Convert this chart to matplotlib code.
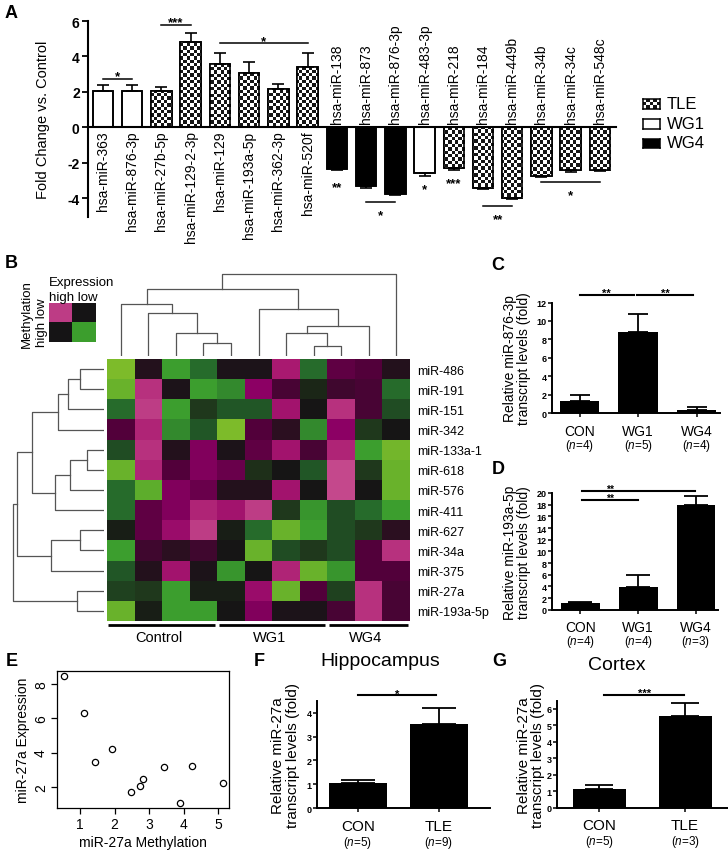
import numpy as np
import matplotlib
matplotlib.use('Agg')
import matplotlib.pyplot as plt
from matplotlib.colors import LinearSegmentedColormap, ListedColormap

plt.rcParams['font.family'] = ['Liberation Sans', 'DejaVu Sans']
plt.rcParams['mathtext.fontset'] = 'custom'
plt.rcParams['mathtext.rm'] = 'Liberation Sans'
plt.rcParams['mathtext.it'] = 'Liberation Sans:italic'

# ---------------- data ----------------
# Panel A
a_labels = ['hsa-miR-363', 'hsa-miR-876-3p', 'hsa-miR-27b-5p', 'hsa-miR-129-2-3p',
            'hsa-miR-129', 'hsa-miR-193a-5p', 'hsa-miR-362-3p', 'hsa-miR-520f',
            'hsa-miR-138', 'hsa-miR-873', 'hsa-miR-876-3p', 'hsa-miR-483-3p',
            'hsa-miR-218', 'hsa-miR-184', 'hsa-miR-449b', 'hsa-miR-34b',
            'hsa-miR-34c', 'hsa-miR-548c']
a_groups = ['WG1', 'WG1', 'TLE', 'TLE', 'TLE', 'TLE', 'TLE', 'TLE',
            'WG4', 'WG4', 'WG4', 'WG1', 'TLE', 'TLE', 'TLE', 'TLE', 'TLE', 'TLE']
a_values = [2.05, 2.05, 2.05, 4.8, 3.55, 3.05, 2.15, 3.4,
            -2.35, -3.3, -3.75, -2.55, -2.27, -3.44, -4.0, -2.73, -2.42, -2.4]
a_errors = [0.35, 0.35, 0.22, 0.5, 0.65, 0.65, 0.3, 0.8,
            0.03, 0.1, 0.04, 0.17, 0.12, 0.05, 0.05, 0.04, 0.08, 0.08]
a_legend = ['TLE', 'WG1', 'WG4']
# brackets: (first bar, last bar, line y, stars)
a_brackets = [(0, 1, 2.75, '*'), (2, 3, 5.8, '***'), (4, 7, 4.75, '*'),
              (9, 10, -4.2, '*'), (13, 14, -4.42, '**'), (15, 17, -3.07, '*')]
a_single = [(8, -3.1, '**'), (11, -3.24, '*'), (12, -2.87, '***')]

# Panel B heatmap
b_rows = ['miR-486', 'miR-191', 'miR-151', 'miR-342', 'miR-133a-1', 'miR-618',
          'miR-576', 'miR-411', 'miR-627', 'miR-34a', 'miR-375', 'miR-27a',
          'miR-193a-5p']
b_groups = ['Control', 'WG1', 'WG4']
b_group_sizes = [4, 4, 3]
b_values = [
    [-1.0, 0.1, -0.7, -0.45, 0.05, 0.05, 0.8, -0.45, 0.4, 0.35, 0.1],
    [-0.9, 0.9, 0.05, -0.7, -0.6, 0.6, 0.3, -0.1, 0.25, 0.3, -0.45],
    [-0.45, 0.95, -0.7, -0.2, -0.35, -0.35, 0.75, 0.0, 0.9, 0.3, -0.3],
    [0.35, 0.85, -0.6, -0.35, -1.0, 0.35, 0.15, -0.6, 0.6, -0.2, 0.0],
    [-0.3, 0.9, 0.1, 0.55, 0.05, 0.4, 0.75, 0.3, 0.85, -0.7, -0.95],
    [-0.9, 0.85, 0.35, 0.55, 0.45, -0.15, 0.0, -0.35, 1.0, -0.2, -0.9],
    [-0.45, -0.85, 0.55, 0.45, 0.1, 0.1, 0.75, 0.0, 1.0, 0.0, -0.9],
    [-0.45, 0.4, 0.55, 0.85, 0.75, 0.95, -0.2, -0.65, -0.3, -0.45, -0.7],
    [-0.05, 0.4, 0.7, 0.95, -0.05, -0.45, -0.9, -0.7, -0.3, -0.2, 0.15],
    [-0.7, 0.25, 0.15, 0.25, 0.0, -0.9, -0.3, -0.2, -0.3, 0.35, 0.9],
    [-0.35, 0.1, 0.75, 0.05, -0.65, 0.0, 0.85, -0.9, -0.65, 0.35, 0.35],
    [-0.25, -0.2, -0.7, -0.05, -0.05, 0.7, -0.9, 0.35, -0.25, 0.9, 0.3],
    [-0.9, -0.05, -0.7, -0.7, 0.0, 0.55, 0.05, 0.05, 0.3, 0.9, 0.3],
]
# dendrogram merges (scipy-like: child indices >= n refer to earlier merges), heights
b_col_link = [(3, 4, 13.4), (2, 11, 23.4), (1, 12, 43.4), (0, 13, 51.7),
              (7, 8, 10.0), (6, 15, 23.4), (16, 9, 30.0), (5, 17, 46.7),
              (14, 18, 66.7), (19, 10, 82.4)]
b_row_link = [(0, 1, 24), (13, 2, 36), (14, 3, 46), (4, 5, 17), (16, 6, 34),
              (17, 7, 49), (15, 18, 72), (8, 9, 24), (20, 10, 53), (19, 21, 87),
              (11, 12, 27), (22, 23, 91)]
b_key = [[0.95, 0.0], [0.0, -0.7]]

# Panel C
c_cats = ['CON', 'WG1', 'WG4']
c_n = [4, 5, 4]
c_vals = [1.37, 8.8, 0.36]
c_errs = [0.65, 1.95, 0.32]
c_sig = [(0.0, 0.93, 12.86, '**', 0.46), (0.98, 1.94, 12.86, '**', 1.46)]

# Panel D
d_cats = ['CON', 'WG1', 'WG4']
d_n = [4, 4, 3]
d_vals = [1.1, 3.94, 18.0]
d_errs = [0.15, 2.05, 1.55]
d_sig = [(0.03, 1.99, 20.4, '**', 0.52), (0.03, 0.99, 18.8, '**', 0.52)]

# Panel E
e_meth = [0.52, 1.10, 1.43, 1.94, 2.48, 2.75, 2.82, 3.43, 3.90, 4.25, 5.14]
e_expr = [8.5, 6.32, 3.43, 4.21, 1.68, 2.06, 2.46, 3.14, 1.03, 3.2, 2.24]

# Panel F
f_cats = ['CON', 'TLE']
f_n = [5, 9]
f_vals = [1.04, 3.51]
f_errs = [0.14, 0.7]
f_sig = [(0.0, 0.97, 4.72, '*', 0.49)]

# Panel G
g_cats = ['CON', 'TLE']
g_n = [5, 3]
g_vals = [1.15, 5.6]
g_errs = [0.25, 0.75]
g_sig = [(0.06, 0.99, 6.85, '***', 0.53)]

# ---------------- figure ----------------
W, H = 728, 853
fig = plt.figure(figsize=(W / 100, H / 100), dpi=100)


def px_axes(l, t, r, b):
    return fig.add_axes([l / W, 1 - b / H, (r - l) / W, (b - t) / H])


def ftext(x, y, s, **kw):
    return fig.text(x / W, 1 - y / H, s, **kw)


def pt(p):
    return p * 0.72


def stars(ax, x, y, s, dy_px, fs):
    """place asterisks so that their visual centre sits dy_px (up +) from (x, y)"""
    centre_above_baseline = 0.57 * fs / 0.72
    ax.annotate(s, xy=(x, y), xytext=(0, pt(dy_px - centre_above_baseline)),
                textcoords='offset points', ha='center', va='baseline',
                fontsize=fs, fontweight='bold', annotation_clip=False)


chk_cmap = ListedColormap(['white', '#151515'])


def checker_array(w_px, h_px, cell=3.3):
    nx = int(round(w_px / cell))
    ny = int(round(h_px / cell))
    return np.add.outer(np.arange(ny), np.arange(nx)) % 2


# ---------- Panel A ----------
axA = px_axes(88, 22, 616, 218)
xa = np.arange(len(a_values))
fcs = ['black' if g == 'WG4' else 'white' for g in a_groups]
bars = axA.bar(xa, a_values, width=0.7, color=fcs, edgecolor='black',
               linewidth=1.2, zorder=2)
chk = checker_array(528, 196)
for bar, g in zip(bars, a_groups):
    if g == 'TLE':
        im = axA.imshow(chk, cmap=chk_cmap, extent=(0, 1, 0, 1),
                        transform=axA.transAxes, interpolation='nearest',
                        aspect='auto', zorder=2.1)
        im.set_clip_path(bar)
axA.bar(xa, a_values, width=0.7, fill=False, edgecolor='black',
        linewidth=1.2, zorder=3)
lo = [0 if v > 0 else e for v, e in zip(a_values, a_errors)]
hi = [e if v > 0 else 0 for v, e in zip(a_values, a_errors)]
axA.errorbar(xa, a_values, yerr=[lo, hi], fmt='none', ecolor='black',
             elinewidth=1.2, capsize=4.5, capthick=1.2, zorder=4)
axA.set_xlim(-0.51, 17.55)
axA.set_ylim(-5.05, 6)
for s in ['top', 'right']:
    axA.spines[s].set_visible(False)
axA.spines['bottom'].set_position(('data', 0))
axA.spines['bottom'].set_linewidth(1.5)
axA.spines['left'].set_linewidth(1.5)
axA.set_xticks([])
axA.set_yticks([-4, -2, 0, 2, 4, 6])
axA.set_yticklabels(['-4', '-2', '0', '2', '4', '6'], fontsize=10, fontweight='bold')
axA.tick_params(axis='y', length=4.5, width=1.3, pad=1.5)
axA.set_ylabel('Fold Change vs. Control', fontsize=10.5)
axA.yaxis.set_label_coords((50 - 88) / 528, 0.5)
for i, (lab, v) in enumerate(zip(a_labels, a_values)):
    if v > 0:
        axA.annotate(lab, xy=(i, 0), xytext=(0, -pt(3)), textcoords='offset points',
                     rotation=90, ha='center', va='top', fontsize=10)
    else:
        axA.annotate(lab, xy=(i, 0), xytext=(0, pt(4)), textcoords='offset points',
                     rotation=90, ha='center', va='bottom', fontsize=10)
for i0, i1, y, s in a_brackets:
    axA.plot([i0, i1], [y, y], color='black', lw=1.1, clip_on=False, zorder=5)
    xm = (i0 + i1) / 2
    stars(axA, xm, y, s, 7 if y > 0 else -9, 9.5)
for i, y, s in a_single:
    stars(axA, i, y, s, 0, 9.5)

# legend (manual)
leg_rows = [(99.5, 110), (119.5, 129.5), (139.5, 148.5)]
for name, (t, b) in zip(a_legend, leg_rows):
    lax = px_axes(643, t, 660, b)
    lax.set_xticks([])
    lax.set_yticks([])
    for sp in lax.spines.values():
        sp.set_linewidth(1.1)
    if name == 'TLE':
        lax.imshow(checker_array(17, 10.5), cmap=chk_cmap, interpolation='nearest',
                   aspect='auto')
    elif name == 'WG4':
        lax.set_facecolor('black')
    ftext(667, (t + b) / 2, name, fontsize=12, ha='left', va='center')

# ---------- Panel B ----------
hm_cmap = LinearSegmentedColormap.from_list('gm', [
    (0.0, '#7dbb2a'), (0.15, '#3c9e2e'), (0.30, '#22602a'), (0.42, '#1e3019'),
    (0.5, '#151515'), (0.575, '#2a0f20'), (0.675, '#52003a'), (0.8, '#8c0064'),
    (0.9, '#a8186f'), (1.0, '#c4488c')])
nr, nc = len(b_rows), len(b_values[0])
axH = px_axes(107, 360, 410, 622)
axH.pcolormesh(np.arange(nc + 1), np.arange(nr + 1), np.array(b_values),
               cmap=hm_cmap, vmin=-1, vmax=1)
axH.set_xlim(0, nc)
axH.set_ylim(nr, 0)
for sp in axH.spines.values():
    sp.set_visible(False)
axH.set_xticks([])
axH.yaxis.tick_right()
axH.set_yticks(np.arange(nr) + 0.5)
axH.set_yticklabels(b_rows, fontsize=9)
axH.tick_params(axis='y', length=0, pad=5)
start = 0
for gname, gs in zip(b_groups, b_group_sizes):
    axH.plot([start + 0.05, start + gs - 0.08], [nr + 0.2, nr + 0.2], color='black',
             lw=2, clip_on=False, solid_capstyle='butt')
    axH.text(start + gs / 2 - 0.1, nr + 0.8, gname, ha='center', va='center',
             fontsize=10.5)
    start += gs


def draw_dendro(ax, link, n, orient):
    pos = {i: i + 0.5 for i in range(n)}
    hgt = {i: 0.0 for i in range(n)}
    for k, (a, b, h) in enumerate(link):
        xs = [pos[a], pos[a], pos[b], pos[b]]
        ys = [hgt[a], h, h, hgt[b]]
        if orient == 'top':
            ax.plot(xs, ys, color='#555555', lw=0.9)
        else:
            ax.plot(ys, xs, color='#555555', lw=0.9)
        pos[n + k] = (pos[a] + pos[b]) / 2
        hgt[n + k] = h


axDc = px_axes(107, 270, 410, 357)
draw_dendro(axDc, b_col_link, nc, 'top')
axDc.set_xlim(0, nc)
axDc.set_ylim(0, 87)
axDc.axis('off')

axDr = px_axes(8, 360, 104, 622)
draw_dendro(axDr, b_row_link, nr, 'left')
axDr.set_ylim(nr, 0)
axDr.set_xlim(96, 0)
axDr.axis('off')

# colour key
axK = px_axes(49, 304, 96, 343)
axK.imshow(np.array(b_key), cmap=hm_cmap, vmin=-1, vmax=1, aspect='auto',
           interpolation='nearest')
axK.axis('off')
ftext(49, 283, 'Expression', fontsize=9.5, ha='left', va='center')
ftext(49, 298, 'high low', fontsize=9.5, ha='left', va='center')
ftext(27, 314, 'Methylation', fontsize=9.5, rotation=90, ha='center', va='center')
ftext(42, 323, 'high low', fontsize=9.5, rotation=90, ha='center', va='center')


# ---------- bar panels C, D, F, G ----------
def bar_panel(box, cats, ns, vals, errs, ylim, yticks, xlim, width, capsize,
              ylabel, ylabel_px, ylabel_fs, sig, cat_fs, n_fs, cat_dy, n_dy,
              tick_fs, star_fs):
    l, t, r, b = box
    ax = px_axes(l, t, r, b)
    x = np.arange(len(vals))
    ax.errorbar(x, vals, yerr=[np.zeros(len(vals)), errs], fmt='none',
                ecolor='black', elinewidth=1.3, capsize=capsize, capthick=1.3,
                zorder=1)
    ax.bar(x, vals, width=width, color='black', zorder=2)
    ax.set_xlim(*xlim)
    ax.set_ylim(*ylim)
    for s in ['top', 'right']:
        ax.spines[s].set_visible(False)
    for s in ['left', 'bottom']:
        ax.spines[s].set_linewidth(1.4)
    ax.set_yticks(yticks)
    ax.set_yticklabels([str(v) for v in yticks], fontsize=tick_fs, fontweight='bold')
    ax.tick_params(axis='y', length=3, width=1.1, pad=1)
    ax.set_xticks(x)
    ax.set_xticklabels([])
    ax.tick_params(axis='x', length=3, width=1.1)
    for i, (c, n) in enumerate(zip(cats, ns)):
        ax.annotate(c, xy=(i, 0), xycoords=('data', 'axes fraction'),
                    xytext=(0, -pt(cat_dy)), textcoords='offset points',
                    ha='center', va='center', fontsize=cat_fs)
        ax.annotate(r'($\mathit{n}$=%d)' % n, xy=(i, 0),
                    xycoords=('data', 'axes fraction'),
                    xytext=(0, -pt(n_dy)), textcoords='offset points',
                    ha='center', va='center', fontsize=n_fs)
    for x0, x1, y, s, xs in sig:
        ax.plot([x0, x1], [y, y], color='black', lw=1.5, clip_on=False)
        stars(ax, xs, y, s, 5, star_fs)
    ax.text((ylabel_px - l) / (r - l), 0.5, ylabel, transform=ax.transAxes,
            rotation=90, ha='center', va='center', fontsize=ylabel_fs,
            multialignment='center', linespacing=1.05)
    return ax


bar_panel((552, 303.5, 720, 414.3), c_cats, c_n, c_vals, c_errs, (0, 12),
          list(range(0, 13, 2)), (-0.47, 2.4), 0.67, 7.5,
          'Relative miR-876-3p\ntranscript levels (fold)', 517, 10, c_sig,
          10, 8.5, 17.5, 32, 6.5, 8)
bar_panel((552, 494, 718, 610.7), d_cats, d_n, d_vals, d_errs, (0, 20),
          list(range(0, 21, 2)), (-0.49, 2.38), 0.67, 8.5,
          'Relative miR-193a-5p\ntranscript levels (fold)', 517, 10, d_sig,
          10, 8.5, 17.5, 31, 6.5, 7.5)
axF = bar_panel((317.3, 701.7, 490, 809.3), f_cats, f_n, f_vals, f_errs, (0, 4.5),
                [0, 1, 2, 3, 4], (-0.5, 1.63), 0.71, 12,
                'Relative miR-27a\ntranscript levels (fold)', 285.5, 11, f_sig,
                11, 8.5, 17.5, 34, 6.5, 8)
axG = bar_panel((557.3, 701.7, 728, 809), g_cats, g_n, g_vals, g_errs, (0, 6.5),
                [0, 1, 2, 3, 4, 5, 6], (-0.49, 1.5), 0.62, 10,
                'Relative miR-27a\ntranscript levels (fold)', 531, 11, g_sig,
                11, 8.5, 17, 33, 6.5, 8)
ftext(380, 662, 'Hippocampus', fontsize=14, ha='center', va='center')
ftext(617, 666, 'Cortex', fontsize=14, ha='center', va='center')

# ---------- Panel E ----------
axE = px_axes(57, 672, 229, 809)
axE.plot(e_meth, e_expr, 'o', mfc='white', mec='black', ms=4.5, mew=0.9)
axE.set_xlim(0.33, 5.32)
axE.set_ylim(0.76, 8.77)
axE.set_xticks([1, 2, 3, 4, 5])
axE.set_yticks([2, 4, 6, 8])
axE.set_xticklabels(['1', '2', '3', '4', '5'], fontsize=10)
axE.set_yticklabels(['2', '4', '6', '8'], fontsize=10, rotation=90, va='center')
axE.tick_params(length=4.5, width=0.9, pad=2)
for sp in axE.spines.values():
    sp.set_linewidth(0.9)
axE.set_xlabel('miR-27a Methylation', fontsize=10, labelpad=3)
axE.set_ylabel('miR-27a Expression', fontsize=10, labelpad=3)

# panel letters
for s, x, y in [('A', 11, 14), ('B', 11, 264), ('C', 498, 265), ('D', 498, 470),
                ('E', 12, 661), ('F', 259, 661), ('G', 499, 661)]:
    ftext(x, y, s, fontsize=13, fontweight='bold', ha='center', va='center')

fig.savefig('out.png', dpi=100)
